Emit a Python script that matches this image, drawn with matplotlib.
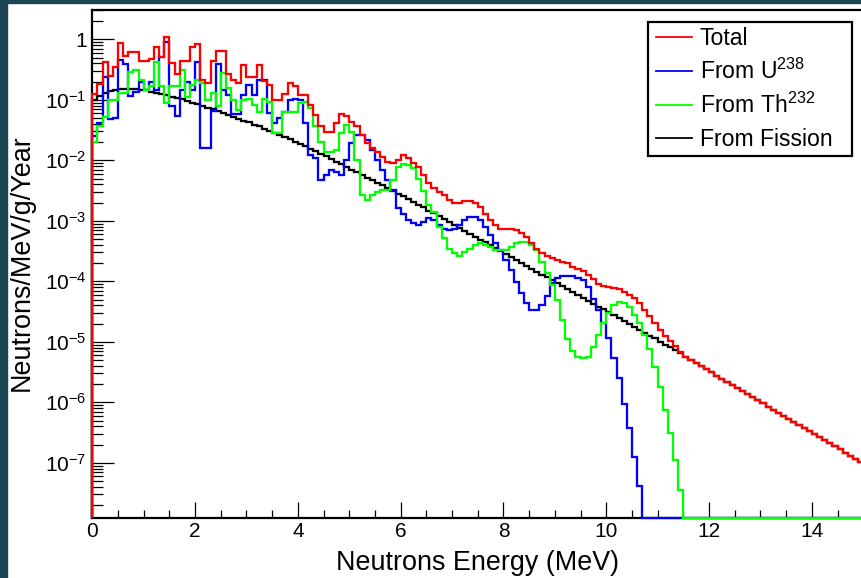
import numpy as np
import matplotlib
matplotlib.use('Agg')
import matplotlib.pyplot as plt
from matplotlib.patches import Rectangle
from matplotlib.lines import Line2D
from matplotlib.ticker import FixedLocator, FixedFormatter, LogLocator, MultipleLocator, NullFormatter

plt.rcParams['font.family'] = ['Liberation Sans', 'DejaVu Sans']
plt.rcParams['mathtext.fontset'] = 'custom'
plt.rcParams['mathtext.rm'] = 'Liberation Sans'
plt.rcParams['mathtext.it'] = 'Liberation Sans:italic'
plt.rcParams['mathtext.bf'] = 'Liberation Sans:bold'

# 150 bins of 0.1 MeV, values stored as log10(neutrons/MeV/g/year); None = empty bin
E_MIN, E_MAX, N_BINS = 0.0, 15.0, 150

total_log = [
    -0.90, -0.74, -0.38, -0.61, -0.46, -0.06, -0.27, -0.21, -0.21, -0.36,
    -0.36, -0.33, -0.12, -0.30, 0.03, -0.39, -0.57, -0.36, -0.36, -0.13,
    -0.08, -0.67, -0.72, -0.36, -0.19, -0.19, -0.58, -0.68, -0.72, -0.43,
    -0.63, -0.63, -0.43, -0.69, -0.76, -1.00, -1.00, -0.90, -0.73, -0.78,
    -0.92, -0.92, -1.09, -1.25, -1.44, -1.53, -1.53, -1.39, -1.24, -1.27,
    -1.36, -1.44, -1.58, -1.72, -1.80, -1.86, -1.94, -2.02, -2.05, -2.00,
    -1.91, -1.96, -2.05, -2.11, -2.24, -2.38, -2.46, -2.52, -2.57, -2.65,
    -2.71, -2.71, -2.68, -2.68, -2.71, -2.77, -2.88, -2.99, -3.07, -3.13,
    -3.14, -3.14, -3.15, -3.20, -3.26, -3.37, -3.46, -3.54, -3.59, -3.62,
    -3.65, -3.68, -3.70, -3.76, -3.80, -3.83, -3.90, -3.96, -4.04, -4.07,
    -4.09, -4.11, -4.13, -4.17, -4.23, -4.28, -4.36, -4.47, -4.58, -4.69,
    -4.80, -4.90, -4.98, -5.07, -5.17, -5.25, -5.30, -5.35, -5.40, -5.45,
    -5.50, -5.56, -5.61, -5.66, -5.71, -5.76, -5.81, -5.86, -5.91, -5.96,
    -6.01, -6.07, -6.12, -6.17, -6.22, -6.27, -6.32, -6.37, -6.42, -6.47,
    -6.52, -6.58, -6.63, -6.68, -6.73, -6.78, -6.83, -6.88, -6.93, -6.98,
]

u238_log = [
    -1.60, -1.38, -0.62, -1.32, -1.30, -0.35, -0.40, -0.93, -0.87, -0.70,
    -0.84, -0.70, -0.84, -0.30, -0.05, -1.10, -1.27, -0.84, -0.70, -0.84,
    -0.38, -1.80, -1.80, -1.19, -0.40, -0.84, -0.92, -1.24, -1.24, -0.92,
    -0.76, -0.92, -0.67, -0.67, -1.22, -1.39, -1.30, -1.20, -1.00, -0.98,
    -1.00, -1.39, -1.91, -1.97, -2.33, -2.24, -2.16, -2.19, -2.24, -1.99,
    -1.72, -1.58, -1.58, -1.66, -1.83, -1.99, -2.16, -2.33, -2.49, -2.79,
    -2.88, -2.99, -3.04, -3.07, -3.02, -2.96, -2.99, -3.07, -3.13, -3.15,
    -3.13, -3.07, -2.99, -2.93, -2.93, -2.99, -3.10, -3.24, -3.37, -3.48,
    -3.65, -3.81, -4.01, -4.20, -4.36, -4.47, -4.47, -4.39, -4.25, -4.03,
    -3.95, -3.91, -3.91, -3.92, -3.95, -3.98, -4.10, -4.30, -4.48, -4.69,
    -4.94, -5.27, -5.60, -6.02, -6.43, -6.90, -7.39, None, None, None,
] + [None] * 40

th232_log = [
    -1.69, -1.44, -1.28, -1.00, -1.00, -0.89, -0.89, -0.54, -0.51, -0.67,
    -0.84, -0.78, -0.37, -0.78, -1.06, -0.78, -0.78, -0.51, -0.95, -0.76,
    -0.67, -0.73, -1.00, -0.89, -1.11, -0.56, -0.81, -1.00, -1.17, -1.00,
    -0.98, -1.09, -1.20, -0.98, -1.03, -1.55, -1.55, -1.20, -1.20, -1.20,
    -1.06, -1.03, -1.14, -1.44, -1.69, -1.86, -1.86, -1.83, -1.55, -1.41,
    -1.53, -2.00, -2.57, -2.66, -2.57, -2.52, -2.49, -2.49, -2.33, -2.11,
    -2.06, -2.08, -2.13, -2.31, -2.50, -2.74, -2.85, -3.10, -3.29, -3.46,
    -3.54, -3.59, -3.51, -3.46, -3.40, -3.37, -3.40, -3.43, -3.48, -3.48,
    -3.48, -3.43, -3.37, -3.35, -3.35, -3.40, -3.48, -3.68, -3.87, -4.06,
    -4.31, -4.64, -4.96, -5.15, -5.25, -5.27, -5.25, -5.08, -4.89, -4.69,
    -4.53, -4.39, -4.35, -4.36, -4.42, -4.56, -4.69, -4.89, -5.12, -5.41,
    -5.74, -6.12, -6.51, -6.95, -7.45, None, None, None, None, None,
] + [None] * 30

fission_log = [
    -1.00, -0.93, -0.89, -0.86, -0.84, -0.825, -0.817, -0.815, -0.82, -0.83,
    -0.845, -0.865, -0.885, -0.905, -0.925, -0.95, -0.97, -0.995, -1.02, -1.05,
    -1.075, -1.10, -1.13, -1.16, -1.19, -1.22, -1.25, -1.28, -1.31, -1.345,
    -1.375, -1.41, -1.44, -1.48, -1.51, -1.545, -1.58, -1.62, -1.655, -1.69,
    -1.73, -1.77, -1.81, -1.85, -1.89, -1.935, -1.98, -2.02, -2.065, -2.11,
    -2.155, -2.20, -2.24, -2.285, -2.33, -2.37, -2.415, -2.46, -2.505, -2.55,
    -2.595, -2.64, -2.69, -2.735, -2.78, -2.83, -2.875, -2.92, -2.97, -3.02,
    -3.065, -3.115, -3.165, -3.21, -3.26, -3.31, -3.355, -3.405, -3.455, -3.50,
    -3.55, -3.60, -3.645, -3.695, -3.745, -3.79, -3.84, -3.89, -3.935, -3.985,
    -4.035, -4.08, -4.13, -4.18, -4.225, -4.275, -4.32, -4.37, -4.42, -4.465,
    -4.515, -4.56, -4.61, -4.66, -4.705, -4.755, -4.80, -4.85, -4.90, -4.945,
    -4.995, -5.045, -5.09, -5.14, -5.19, -5.25, -5.30, -5.35, -5.40, -5.45,
    -5.50, -5.56, -5.61, -5.66, -5.71, -5.76, -5.81, -5.86, -5.91, -5.96,
    -6.01, -6.07, -6.12, -6.17, -6.22, -6.27, -6.32, -6.37, -6.42, -6.47,
    -6.52, -6.58, -6.63, -6.68, -6.73, -6.78, -6.83, -6.88, -6.93, -6.98,
]

series_names = ['Total', 'From U$^{238}$', 'From Th$^{232}$', 'From Fission']
series_colors = ['#ff0000', '#0000ff', '#00ff00', '#000000']

x_ticks = [0, 2, 4, 6, 8, 10, 12, 14]
y_ticks = [1e-7, 1e-6, 1e-5, 1e-4, 1e-3, 1e-2, 1e-1, 1]
y_tick_labels = ['$10^{-7}$', '$10^{-6}$', '$10^{-5}$', '$10^{-4}$',
                 '$10^{-3}$', '$10^{-2}$', '$10^{-1}$', '1']

XLABEL = 'Neutrons Energy (MeV)'
YLABEL = 'Neutrons/MeV/g/Year'
YMIN, YMAX = 1.21e-8, 3.05
DARK = '#1c4654'


def to_values(logs):
    return np.array([10.0 ** v if v is not None else 0.0 for v in logs])


W, H = 861, 578
fig = plt.figure(figsize=(W / 100, H / 100), dpi=100)
fig.patches.append(Rectangle((0, 0), 6.7 / W, 1, transform=fig.transFigure,
                             color=DARK, zorder=0))
fig.patches.append(Rectangle((0, 1 - 2.7 / H), 1, 2.7 / H, transform=fig.transFigure,
                             color=DARK, zorder=0))

ax = fig.add_axes([92.3 / W, 1 - 518.3 / H, (863.2 - 92.3) / W, (518.3 - 10) / H])
ax.set_yscale('log')
edges = np.linspace(E_MIN, E_MAX, N_BINS + 1)

data = [to_values(total_log), to_values(u238_log), to_values(th232_log), to_values(fission_log)]
draw_order = [3, 1, 2, 0]
for k in draw_order:
    v = np.where(data[k] > 0, data[k], YMIN)
    ax.stairs(v, edges, baseline=YMIN, color=series_colors[k], lw=1.65,
              zorder=3 + draw_order.index(k), clip_on=False)

ax.set_xlim(E_MIN, E_MAX)
ax.set_ylim(YMIN, YMAX)

ax.xaxis.set_major_locator(FixedLocator(x_ticks))
ax.xaxis.set_minor_locator(MultipleLocator(0.5))
ax.yaxis.set_major_locator(FixedLocator(y_ticks))
ax.yaxis.set_major_formatter(FixedFormatter(y_tick_labels))
ax.yaxis.set_minor_locator(LogLocator(base=10, subs=np.arange(2, 10), numticks=30))
ax.yaxis.set_minor_formatter(NullFormatter())

ax.tick_params(which='both', direction='in', top=False, right=False, width=0.9)
ax.tick_params(axis='x', which='major', length=11.3, labelsize=15, pad=3)
ax.tick_params(axis='x', which='minor', length=5.8)
ax.tick_params(axis='y', which='major', length=15.8, labelsize=15, pad=4)
ax.tick_params(axis='y', which='minor', length=7.9)
for side in ['left', 'bottom', 'top']:
    ax.spines[side].set_linewidth(1.6)
ax.spines['right'].set_visible(False)

fig.text(22 / W, 1 - 263 / H, YLABEL, rotation=90, ha='center', va='center', fontsize=19.4)
fig.text(477.7 / W, 1 - 563.3 / H, XLABEL, ha='center', va='center', fontsize=19.4)

# legend box
fig.patches.append(Rectangle((648.3 / W, 1 - 155.7 / H), (851.7 - 648.3) / W, (155.7 - 21.7) / H,
                             transform=fig.transFigure, facecolor='white', edgecolor='black',
                             lw=1.6, zorder=10))
entry_y = [36.7, 70.7, 105.0, 137.7]
for k in range(4):
    y = 1 - entry_y[k] / H
    fig.lines.append(Line2D([656 / W, 691.7 / W], [y, y], transform=fig.transFigure,
                            color=series_colors[k], lw=1.3, zorder=11))
    fig.text(700 / W, 1 - (entry_y[k] + 8.3) / H, series_names[k], va='baseline',
             fontsize=16.6, zorder=11)

fig.savefig('out.png', dpi=100)
